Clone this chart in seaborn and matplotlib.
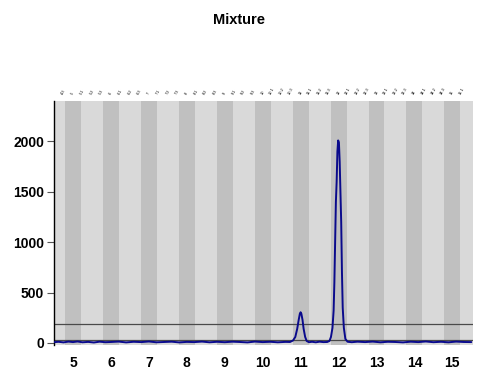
import matplotlib
matplotlib.use("Agg")
import matplotlib.pyplot as plt
import matplotlib.transforms as mtransforms
import seaborn as sns
import pandas as pd

# ---- data ----
trace_x = [4.50, 4.62, 4.75, 4.88, 5.00, 5.12, 5.25, 5.40, 5.55, 5.70, 5.85, 6.00,
           6.20, 6.40, 6.60, 6.80, 7.00, 7.20, 7.40, 7.60, 7.80, 8.00, 8.20, 8.40,
           8.60, 8.80, 9.00, 9.20, 9.40, 9.60, 9.80, 10.00, 10.20, 10.40, 10.60,
           10.72, 10.80, 10.86, 10.91, 10.95, 10.98, 11.00, 11.02, 11.05, 11.08,
           11.12, 11.16, 11.22, 11.30, 11.40, 11.50, 11.60, 11.70, 11.76, 11.80,
           11.84, 11.87, 11.89, 11.91, 11.93, 11.95, 11.97, 11.99, 12.01, 12.03,
           12.05, 12.07, 12.09, 12.11, 12.14, 12.18, 12.24, 12.35, 12.50, 12.70,
           12.90, 13.10, 13.30, 13.50, 13.70, 13.90, 14.10, 14.30, 14.50, 14.70,
           14.90, 15.10, 15.30, 15.50]
trace_y = [8, 12, 6, 14, 9, 15, 7, 11, 5, 13, 8, 10,
           14, 6, 12, 9, 15, 7, 10, 13, 6, 11, 9, 14,
           7, 12, 8, 13, 10, 6, 14, 9, 12, 7, 11,
           10, 25, 60, 140, 230, 290, 305, 290, 230, 140,
           60, 20, 8, 12, 7, 13, 9, 10, 20, 60,
           150, 320, 600, 1000, 1400, 1600, 1900, 2010, 1990, 1800,
           1500, 1200, 700, 350, 150, 40, 12, 8, 13, 9,
           14, 7, 12, 10, 6, 13, 9, 15, 8, 12,
           7, 14, 10, 9]

x_ticks = [5, 6, 7, 8, 9, 10, 11, 12, 13, 14, 15]
y_ticks = [0, 500, 1000, 1500, 2000]
bin_centers = [5, 6, 7, 8, 9, 10, 11, 12, 13, 14, 15]
threshold_lines = [190, 30]
allele_pos = [4.75, 5.0, 5.25, 5.5, 5.75, 6.0, 6.25, 6.5, 6.75, 7.0, 7.25, 7.5,
              7.75, 8.0, 8.25, 8.5, 8.75, 9.0, 9.25, 9.5, 9.75, 10.0, 10.25,
              10.5, 10.75, 11.0, 11.25, 11.5, 11.75, 12.0, 12.25, 12.5, 12.75,
              13.0, 13.25, 13.5, 13.75, 14.0, 14.25, 14.5, 14.75, 15.0, 15.25]
allele_labels = ["4.3", "5", "5.1", "5.2", "5.3", "6", "6.1", "6.2", "6.3", "7",
                 "7.1", "7.2", "7.3", "8", "8.1", "8.2", "8.3", "9", "9.1", "9.2",
                 "9.3", "10", "10.1", "10.2", "10.3", "11", "11.1", "11.2", "11.3",
                 "12", "12.1", "12.2", "12.3", "13", "13.1", "13.2", "13.3", "14",
                 "14.1", "14.2", "14.3", "15", "15.1"]

df = pd.DataFrame({"size": trace_x, "rfu": trace_y})

sns.set_style("white")
plt.rcParams["font.family"] = ["Liberation Sans", "DejaVu Sans"]
plt.rcParams["text.color"] = "black"
plt.rcParams["xtick.color"] = "black"
plt.rcParams["ytick.color"] = "black"

fig = plt.figure(figsize=(4.78, 3.69), dpi=100)
ax = fig.add_axes([0.113, 0.065, 0.877, 0.661])
ax.set_facecolor("#d9d9d9")

for c in bin_centers:
    ax.axvspan(c - 0.21, c + 0.21, color="#c0c0c0", lw=0, zorder=0)
for h in threshold_lines:
    ax.axhline(h, color="#4a4a4a", lw=0.9, zorder=1)

sns.lineplot(data=df, x="size", y="rfu", ax=ax, color="#0a0a8c", lw=1.4,
             zorder=3, estimator=None, sort=False)

ax.set_xlim(4.5, 15.55)
ax.set_ylim(-20, 2400)
ax.set_xticks(x_ticks)
ax.set_xticklabels([str(t) for t in x_ticks], fontsize=10, fontweight="bold",
                   color="black")
ax.set_yticks(y_ticks)
ax.set_yticklabels([str(t) for t in y_ticks], fontsize=10, fontweight="bold",
                   color="black")
ax.set_xlabel("")
ax.set_ylabel("")
ax.tick_params(axis="x", length=0, pad=8)
ax.tick_params(axis="y", length=5, width=0.8, color="#555555", pad=2, left=True)

for s in ["top", "right", "bottom"]:
    ax.spines[s].set_visible(False)
ax.spines["left"].set_color("black")
ax.spines["left"].set_linewidth(1.0)

trans = mtransforms.blended_transform_factory(ax.transData, ax.transAxes)
for p, lab in zip(allele_pos, allele_labels):
    ax.text(p, 1.025, lab, transform=trans, fontsize=2.8, rotation=60,
            ha="center", va="bottom", color="black")

fig.text(0.5, 0.946, "Mixture", ha="center", va="center", fontsize=10.5,
         fontweight="bold", color="black")

fig.savefig("out.png", dpi=100)
